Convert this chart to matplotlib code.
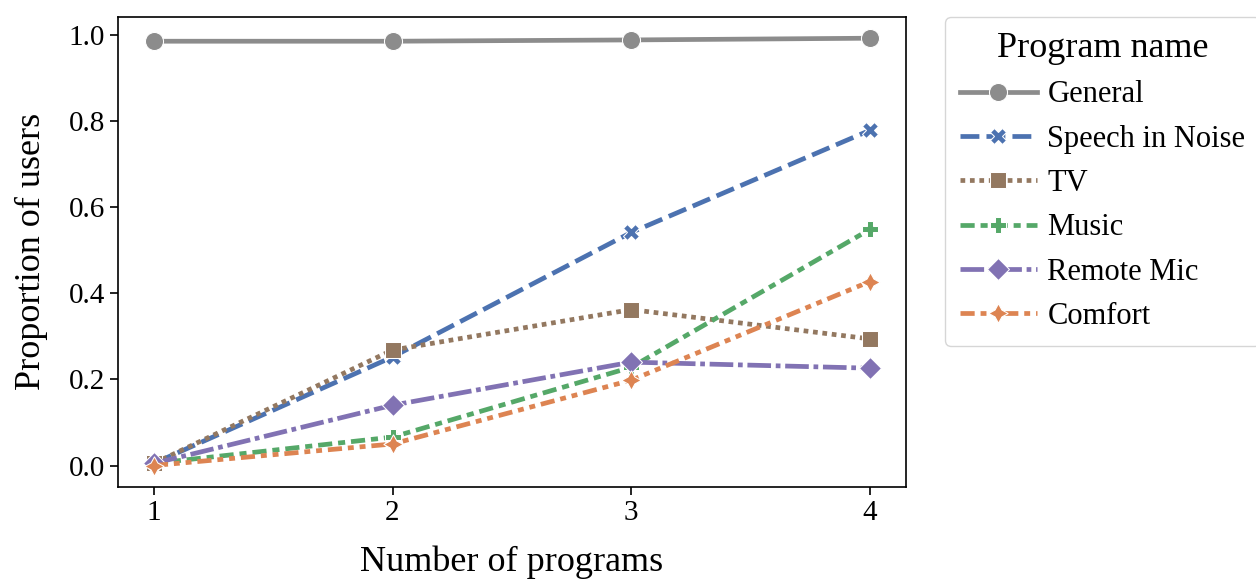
import matplotlib
matplotlib.use("Agg")
import matplotlib.pyplot as plt

plt.rcParams['font.family'] = ['Liberation Serif', 'DejaVu Serif']

# data
n_programs = [1, 2, 3, 4]
programs = ["General", "Speech in Noise", "TV", "Music", "Remote Mic", "Comfort"]
general = [0.985, 0.985, 0.988, 0.992]
speech = [0.005, 0.252, 0.541, 0.778]
tv = [0.005, 0.268, 0.362, 0.294]
music = [0.005, 0.066, 0.228, 0.548]
remote_mic = [0.005, 0.140, 0.240, 0.226]
comfort = [0.0, 0.050, 0.198, 0.427]
values = [general, speech, tv, music, remote_mic, comfort]

colors = ["#8c8c8c", "#4c72b0", "#937860", "#55a868", "#8172b3", "#dd8452"]
markers = ["o", "X", "s", "P", "D", (4, 1, 0)]
dashes = [(), (4, 1.5), (1, 1), (3, 1.25, 1.5, 1.25), (5, 1, 1, 1),
          (3, 1.25, 1.25, 1.25, 1.25, 1.25)]
msizes = [13, 12, 11, 12, 11, 14]

fig = plt.figure(figsize=(12.56, 5.81), dpi=100)
ax = fig.add_axes([0.094, 0.162, 0.627, 0.809])

for name, vals, c, m, d, ms in zip(programs, values, colors, markers, dashes, msizes):
    line, = ax.plot(n_programs, vals, color=c, marker=m, markersize=ms,
                    markeredgecolor="white", markeredgewidth=0.75,
                    linewidth=3.4, label=name)
    if d:
        line.set_dashes(d)

ax.set_xticks(n_programs)
ax.set_yticks([0.0, 0.2, 0.4, 0.6, 0.8, 1.0])
ax.tick_params(labelsize=21, length=6, width=1.2)
for s in ax.spines.values():
    s.set_linewidth(1.2)
ax.set_xlabel("Number of programs", fontsize=26, labelpad=14)
ax.set_ylabel("Proportion of users", fontsize=26, labelpad=15)

leg = ax.legend(title="Program name", bbox_to_anchor=(1.05, 1.0), loc="upper left",
                borderaxespad=0, fontsize=22, title_fontsize=26, borderpad=0.5,
                handlelength=2.5, handletextpad=0.35, labelspacing=0.5)

fig.savefig("out.png", dpi=100)
